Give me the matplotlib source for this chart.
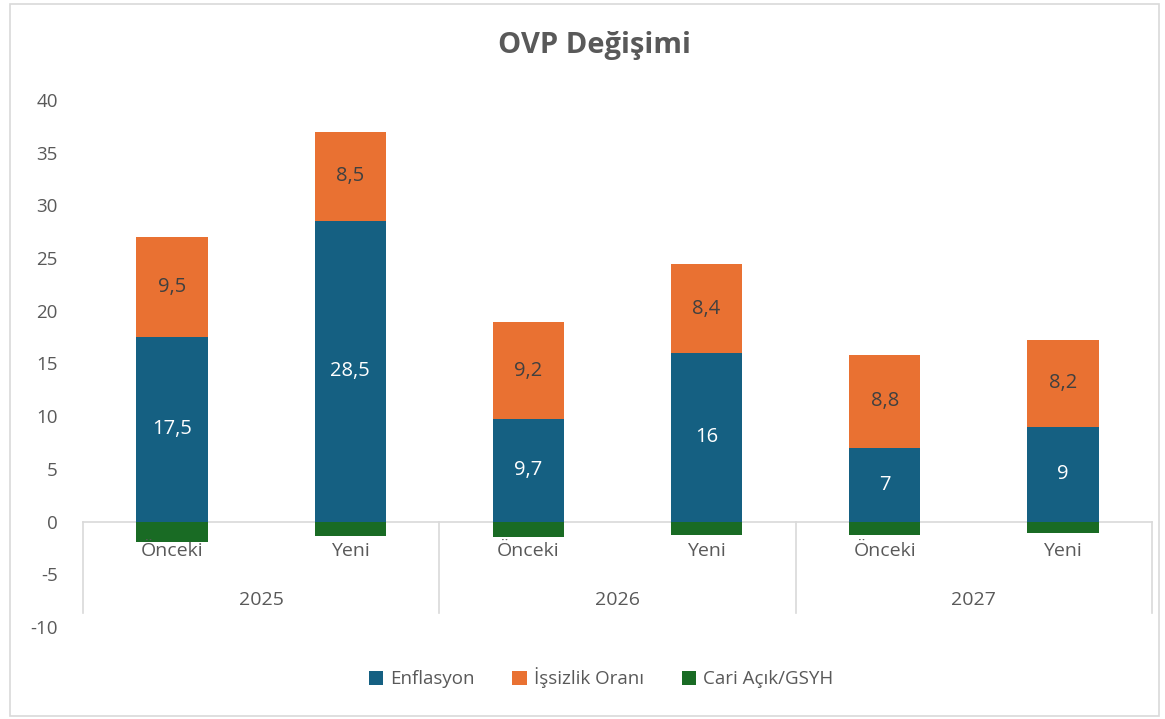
import numpy as np
import matplotlib
matplotlib.use("Agg")
import matplotlib.pyplot as plt
from matplotlib.patches import Rectangle

plt.rcParams["font.family"] = ["Open Sans", "DejaVu Sans"]
plt.rcParams["axes.unicode_minus"] = False

years = ["2025", "2026", "2027"]
versions = ["Önceki", "Yeni"]
enflasyon = [17.5, 28.5, 9.7, 16, 7, 9]
issizlik = [9.5, 8.5, 9.2, 8.4, 8.8, 8.2]
cari_acik = [-1.9, -1.4, -1.5, -1.3, -1.3, -1.1]

blue = "#156082"
orange = "#E97132"
green = "#196B24"
grey = "#595959"
line_grey = "#D9D9D9"

def fmt(v):
    return str(v).replace(".", ",") if v != int(v) else str(int(v))

fig = plt.figure(figsize=(11.65, 7.19), dpi=100)
fig.patches.append(Rectangle((0.009, 0.004), 0.986, 0.99, transform=fig.transFigure,
                             fill=False, edgecolor=line_grey, linewidth=1.2))
ax = fig.add_axes([0.0712, 0.128, 0.9176, 0.733])

x = np.arange(len(enflasyon))
w = 0.4
ax.bar(x, enflasyon, w, color=blue, label="Enflasyon", zorder=2)
ax.bar(x, issizlik, w, bottom=enflasyon, color=orange, label="İşsizlik Oranı", zorder=2)
ax.bar(x, cari_acik, w, color=green, label="Cari Açık/GSYH", zorder=2)

for i in range(len(x)):
    ax.text(x[i], enflasyon[i] / 2, fmt(enflasyon[i]), ha="center", va="center",
            color="white", fontsize=14.5)
    ax.text(x[i], enflasyon[i] + issizlik[i] / 2, fmt(issizlik[i]), ha="center",
            va="center", color="#404040", fontsize=14.5)

ax.set_xlim(-0.5, len(x) - 0.5)
ax.set_ylim(-10, 40)
ax.set_yticks(range(-10, 41, 5))
ax.tick_params(axis="y", length=0, labelsize=13.5, labelcolor=grey, pad=18)
ax.set_xticks([])
for s in ax.spines.values():
    s.set_visible(False)

# category axis
ax.plot([-0.5, len(x) - 0.5], [0, 0], color=line_grey, lw=1.2, clip_on=False, zorder=1)
for b in [-0.5, 1.5, 3.5, 5.5]:
    ax.plot([b, b], [0, -8.7], color=line_grey, lw=1.2, clip_on=False, zorder=1)
for i in range(len(x)):
    ax.text(x[i], -1.95, versions[i % 2], ha="center", va="top", color=grey, fontsize=14)
for j, yr in enumerate(years):
    ax.text(2 * j + 0.5, -6.55, yr, ha="center", va="top", color=grey, fontsize=14)

fig.text(0.51, 0.937, "OVP Değişimi", ha="center", va="center", fontsize=21,
         fontweight="bold", color=grey)

leg = fig.legend(loc="center", bbox_to_anchor=(0.516, 0.057), ncol=3, frameon=False,
                 fontsize=13.5, handlelength=0.75, handleheight=0.75, columnspacing=2.0,
                 handletextpad=0.4)
for t in leg.get_texts():
    t.set_color(grey)

fig.savefig("out.png", dpi=100)
